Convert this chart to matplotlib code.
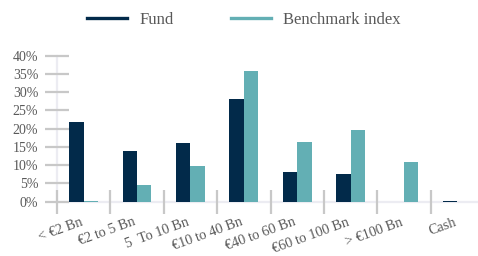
import matplotlib
matplotlib.use("Agg")
import matplotlib.pyplot as plt
import matplotlib.transforms as mtransforms
from matplotlib.lines import Line2D
import numpy as np

categories = ["< €2 Bn", "€2 to 5 Bn", "5  To 10 Bn", "€10 to 40 Bn", "€40 to 60 Bn",
              "€60 to 100 Bn", "> €100 Bn", "Cash"]
fund = [21.9, 13.9, 16.1, 28.2, 8.1, 7.6, 0.0, 0.3]
benchmark = [0.3, 4.6, 9.8, 35.9, 16.4, 19.6, 10.9, 0.0]
yticks = [0, 5, 10, 15, 20, 25, 30, 35, 40]
ytick_labels = [f"{v}%" for v in yticks]

FUND_C = "#022a4a"
BENCH_C = "#63afb4"
TXT = "#595959"

plt.rcParams['font.family'] = ['Liberation Serif', 'DejaVu Serif']

W, H = 478, 256
fig = plt.figure(figsize=(W / 100, H / 100), dpi=100)
x0, x1 = 57, 484
y0, y1 = 201.7, 55.7
ax = fig.add_axes([x0 / W, 1 - y0 / H, (x1 - x0) / W, (y0 - y1) / H])

x = np.arange(len(categories))
bw = 0.27
ax.bar(x - bw / 2, fund, width=bw, color=FUND_C, zorder=3)
ax.bar(x + bw / 2, benchmark, width=bw, color=BENCH_C, zorder=3)

ax.set_xlim(-0.5, len(categories) - 0.5)
ax.set_ylim(0, 40)

for s in ["top", "right"]:
    ax.spines[s].set_visible(False)
for s in ["left", "bottom"]:
    ax.spines[s].set_color("#ececf2")
    ax.spines[s].set_linewidth(1.6)
    ax.spines[s].set_zorder(1)

ax.set_yticks(yticks)
ax.set_yticklabels(ytick_labels)
ax.tick_params(axis="y", direction="inout", length=17, width=1.6, color="#c8c8c8",
               labelsize=10, labelcolor=TXT, pad=5)

ax.set_xticks(np.arange(len(categories) + 1) - 0.5)
ax.set_xticklabels([])
ax.tick_params(axis="x", direction="inout", length=17, width=1.6, color="#c8c8c8")
ax.set_xticks(x, minor=True)
ax.set_xticklabels(categories, minor=True, rotation=20, ha="right", rotation_mode="anchor",
                   fontsize=10.3, color=TXT)
ax.tick_params(axis="x", which="minor", length=0, pad=10)
offset = mtransforms.ScaledTranslation(-4 / 100, 0, fig.dpi_scale_trans)
for lbl in ax.get_xticklabels(minor=True):
    lbl.set_transform(lbl.get_transform() + offset)

handles = [Line2D([], [], color=FUND_C, lw=2.4), Line2D([], [], color=BENCH_C, lw=2.4)]
fig.legend(handles, ["Fund", "Benchmark index"], loc="center", bbox_to_anchor=(244 / W, 1 - 20 / H),
           ncol=2, frameon=False, fontsize=12, labelcolor=TXT, handlelength=2.4,
           handletextpad=0.75, columnspacing=3.4)

fig.savefig("out.png", dpi=100)
